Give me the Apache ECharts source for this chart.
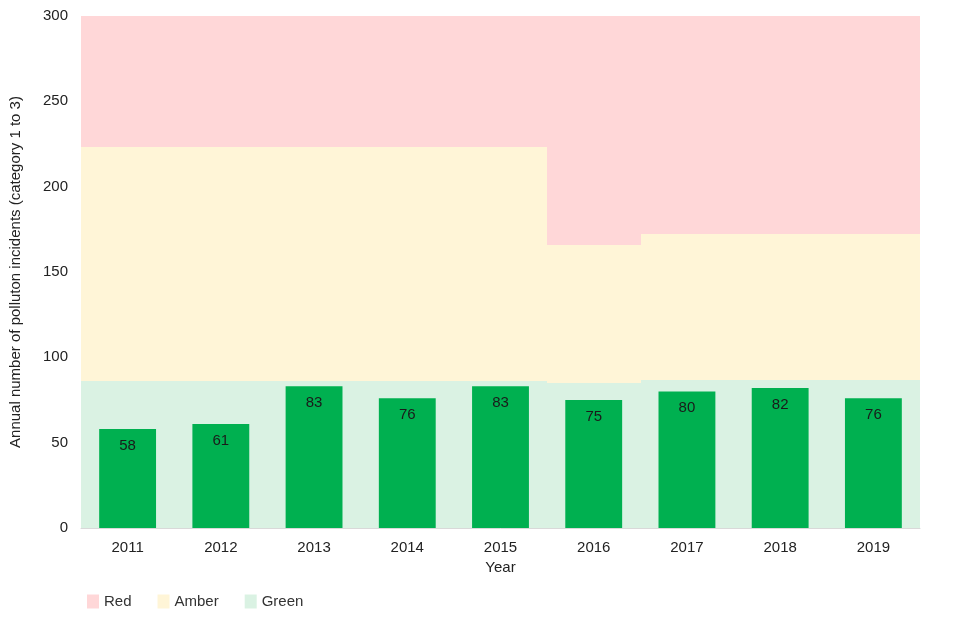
<!DOCTYPE html>
<html>
<head>
<meta charset="utf-8">
<script src="https://cdn.jsdelivr.net/npm/echarts@6/dist/echarts.min.js"></script>
<style>
html,body{margin:0;padding:0;background:#fff;}
#chart{width:960px;height:640px;}
</style>
</head>
<body>
<div id="chart"></div>
<script>
var years = ['2011','2012','2013','2014','2015','2016','2017','2018','2019'];
var incidents = [58, 61, 83, 76, 83, 75, 80, 82, 76];
// upper limits of each band per year
var greenTop = [86, 86, 86, 86, 86, 85, 87, 87, 87];
var amberTop = [223, 223, 223, 223, 223, 166, 172, 172, 172];
var axisMax = 300;

// [categoryIndex, from, to] for each band
var greenData = [], amberData = [], redData = [];
for (var i = 0; i < years.length; i++) {
    greenData.push([i, 0, greenTop[i]]);
    amberData.push([i, greenTop[i], amberTop[i]]);
    redData.push([i, amberTop[i], axisMax]);
}

var font = 'Liberation Sans, Arial, sans-serif';
var dom = document.getElementById('chart');
var myChart = echarts.init(dom);

// full-width rect per year, snapped to whole pixels so no seams show
function renderBand(params, api){
    var idx = api.value(0);
    var top = api.coord([idx, api.value(2)]);
    var bottom = api.coord([idx, api.value(1)]);
    var w = api.size([1, 0])[0];
    var x0 = Math.floor(top[0] - w / 2);
    var x1 = Math.ceil(top[0] + w / 2);
    return {
        type: 'rect',
        shape: { x: x0, y: Math.round(top[1]), width: x1 - x0, height: Math.round(bottom[1]) - Math.round(top[1]) },
        style: api.style()
    };
}

function band(name, color, data){
    return {
        name: name,
        type: 'custom',
        renderItem: renderBand,
        clip: true,
        encode: { x: 0, y: [1, 2] },
        itemStyle: { color: color },
        silent: true,
        data: data
    };
}

var option = {
    animation: false,
    textStyle: { fontFamily: font },
    grid: { left: 80, right: 40, top: 16, bottom: 112 },
    legend: {
        left: 82,
        top: 589,
        itemWidth: 12,
        itemHeight: 14,
        itemGap: 26,
        icon: 'rect',
        textStyle: { fontSize: 15, color: '#333', fontFamily: font },
        data: ['Red', 'Amber', 'Green']
    },
    xAxis: {
        type: 'category',
        data: years,
        name: 'Year',
        nameLocation: 'middle',
        nameGap: 32,
        nameTextStyle: { fontSize: 15, color: '#222' },
        axisLine: { lineStyle: { color: '#d9d9d9' } },
        axisTick: { show: false },
        axisLabel: { fontSize: 15, color: '#222', margin: 12 }
    },
    yAxis: {
        type: 'value',
        min: 0,
        max: axisMax,
        interval: 50,
        name: 'Annual number of polluton incidents (category 1 to 3)',
        nameLocation: 'middle',
        nameGap: 58,
        nameTextStyle: { fontSize: 15, color: '#222' },
        axisLine: { show: false },
        axisTick: { show: false },
        splitLine: { show: false },
        axisLabel: { fontSize: 15, color: '#222', margin: 13 }
    },
    series: [
        band('Green', '#daf2e3', greenData),
        band('Amber', '#fff5d7', amberData),
        band('Red', '#ffd7d8', redData),
        {
            name: 'Incidents',
            type: 'bar',
            barWidth: '61%',
            itemStyle: { color: '#00b050' },
            z: 5,
            label: {
                show: true,
                position: 'insideTop',
                distance: 9,
                fontSize: 15,
                color: '#1a1a1a'
            },
            data: incidents
        }
    ]
};

myChart.setOption(option);
</script>
</body>
</html>
